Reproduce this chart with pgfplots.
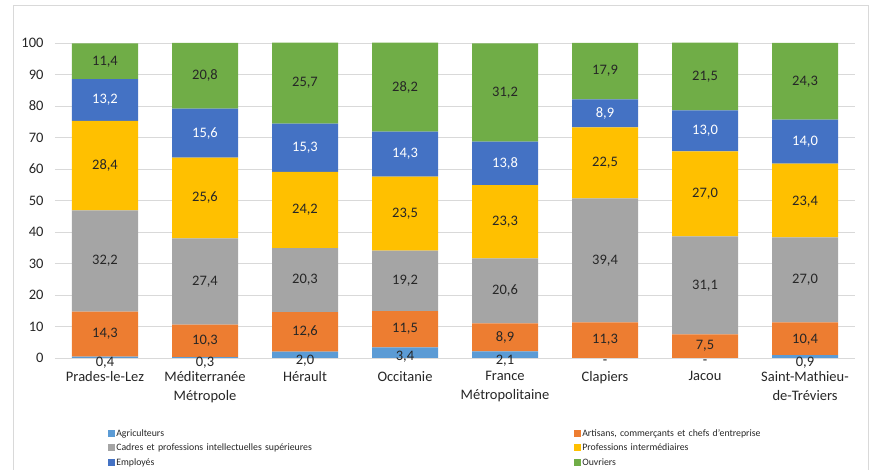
\documentclass[border=0pt]{standalone}
\usepackage{pgfplots}
\pgfplotsset{compat=1.18}
\usepackage{fontspec}
\setmainfont{Carlito}
\definecolor{cAgr}{HTML}{5B9BD5}
\definecolor{cArt}{HTML}{ED7D31}
\definecolor{cCad}{HTML}{A5A5A5}
\definecolor{cPro}{HTML}{FFC000}
\definecolor{cEmp}{HTML}{4472C4}
\definecolor{cOuv}{HTML}{70AD47}
\definecolor{gridc}{HTML}{D9D9D9}
\definecolor{txt}{HTML}{262626}
\begin{document}
\begin{tikzpicture}
\path[use as bounding box] (0pt,0pt) rectangle (872pt,470pt);
\draw[gridc, line width=0.8pt] (13pt,-5pt) -- (13pt,465pt) -- (868pt,465pt) -- (868pt,-5pt);
\begin{axis}[
  at={(55pt,112pt)}, anchor=south west,
  scale only axis, width=800pt, height=315pt,
  xmin=-0.5, xmax=7.5, ymin=0, ymax=100,
  ybar stacked, bar width=66pt,
  ytick={0,10,...,100}, xtick={0,...,7},
  xticklabels={Prades-le-Lez,{Méditerranée\\Métropole},Hérault,Occitanie,{France\\Métropolitaine},Clapiers,Jacou,{Saint-Mathieu-\\de-Tréviers}},
  ymajorgrids, grid style={gridc, line width=0.8pt},
  axis line style={draw=none},
  major tick length=0pt,
  tick label style={font=\fontsize{14.5}{19}\selectfont, text=txt},
  xticklabel style={align=center, anchor=north, yshift=-10pt},
  yticklabel style={xshift=-8pt},
  /pgf/number format/assume math mode=true,
  legend columns=2,
  legend cell align=left,
  legend image code/.code={\fill[#1,draw=none] (0pt,-3.5pt) rectangle (7pt,3.5pt);},
  legend style={at={(0.062,-0.209)}, anchor=north west, draw=none, fill=none,
    font=\fontsize{9.8}{11}\selectfont, text=txt,
    nodes={inner sep=1.5pt, text height=8.5pt, text depth=3pt},
    /tikz/column 2/.style={text width=456pt},
    /tikz/column 4/.style={text width=220pt}},
]
\addplot[fill=cAgr, draw=none] coordinates {(0,0.4) (1,0.3) (2,2.0) (3,3.4) (4,2.1) (5,0) (6,0) (7,0.9)};
\addlegendentry{Agriculteurs}
\addplot[fill=cArt, draw=none] coordinates {(0,14.3) (1,10.3) (2,12.6) (3,11.5) (4,8.9) (5,11.3) (6,7.5) (7,10.4)};
\addlegendentry{Artisans, commerçants et chefs d'entreprise}
\addplot[fill=cCad, draw=none] coordinates {(0,32.2) (1,27.4) (2,20.3) (3,19.2) (4,20.6) (5,39.4) (6,31.1) (7,27.0)};
\addlegendentry{Cadres et professions intellectuelles supérieures}
\addplot[fill=cPro, draw=none] coordinates {(0,28.4) (1,25.6) (2,24.2) (3,23.5) (4,23.3) (5,22.5) (6,27.0) (7,23.4)};
\addlegendentry{Professions intermédiaires}
\addplot[fill=cEmp, draw=none] coordinates {(0,13.2) (1,15.6) (2,15.3) (3,14.3) (4,13.8) (5,8.9) (6,13.0) (7,14.0)};
\addlegendentry{Employés}
\addplot[fill=cOuv, draw=none] coordinates {(0,11.4) (1,20.8) (2,25.7) (3,28.2) (4,31.2) (5,17.9) (6,21.5) (7,24.3)};
\addlegendentry{Ouvriers}
\end{axis}
\begin{axis}[
  at={(55pt,112pt)}, anchor=south west,
  scale only axis, width=800pt, height=315pt,
  xmin=-0.5, xmax=7.5, ymin=0, ymax=100,
  hide axis, clip=false,
  nodes near coords, point meta=explicit symbolic,
  nodes near coords style={anchor=center, font=\fontsize{14.5}{17}\selectfont, inner sep=0pt},
]
% Agriculteurs
\addplot[only marks, mark=*, mark size=0pt, mark options={draw=none,fill=none}, nodes near coords style={text=txt}] coordinates {
(0,-1.4) [0,4] (1,-1.4) [0,3] (2,-0.9) [2,0] (3,0.4) [3,4] (4,-0.9) [2,1] (5,-1.4) [-] (6,-1.4) [-] (7,-1.4) [0,9]};
% Artisans
\addplot[only marks, mark=*, mark size=0pt, mark options={draw=none,fill=none}, nodes near coords style={text=txt}] coordinates {
(0,7.55) [14,3] (1,5.45) [10,3] (2,8.3) [12,6] (3,9.15) [11,5] (4,6.55) [8,9] (5,5.65) [11,3] (6,3.75) [7,5] (7,5.85) [10,4]};
% Cadres
\addplot[only marks, mark=*, mark size=0pt, mark options={draw=none,fill=none}, nodes near coords style={text=txt}] coordinates {
(0,30.8) [32,2] (1,24.3) [27,4] (2,24.75) [20,3] (3,24.5) [19,2] (4,21.3) [20,6] (5,31.0) [39,4] (6,23.05) [31,1] (7,24.8) [27,0]};
% Professions intermediaires
\addplot[only marks, mark=*, mark size=0pt, mark options={draw=none,fill=none}, nodes near coords style={text=txt}] coordinates {
(0,61.1) [28,4] (1,50.8) [25,6] (2,47.0) [24,2] (3,45.85) [23,5] (4,43.25) [23,3] (5,61.95) [22,5] (6,52.1) [27,0] (7,49.5) [23,4]};
% Employes
\addplot[only marks, mark=*, mark size=0pt, mark options={draw=none,fill=none}, nodes near coords style={text=white}] coordinates {
(0,81.9) [13,2] (1,71.4) [15,6] (2,66.75) [15,3] (3,64.75) [14,3] (4,61.8) [13,8] (5,77.65) [8,9] (6,72.1) [13,0] (7,68.7) [14,0]};
% Ouvriers
\addplot[only marks, mark=*, mark size=0pt, mark options={draw=none,fill=none}, nodes near coords style={text=txt}] coordinates {
(0,94.2) [11,4] (1,89.6) [20,8] (2,87.25) [25,7] (3,86.0) [28,2] (4,84.3) [31,2] (5,91.05) [17,9] (6,89.35) [21,5] (7,87.85) [24,3]};
\end{axis}
\end{tikzpicture}
\end{document}
